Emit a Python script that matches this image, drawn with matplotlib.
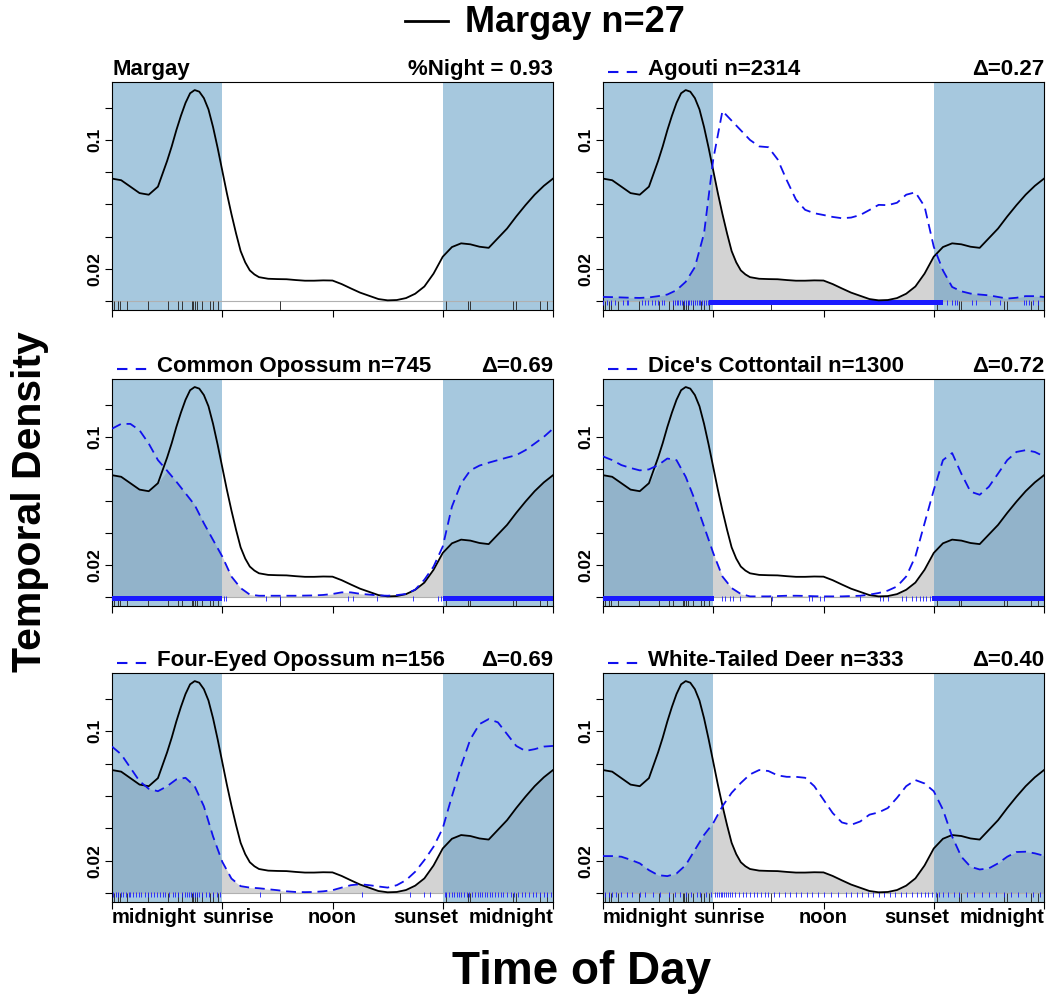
import numpy as np
import matplotlib.pyplot as plt

plt.rcParams['font.family'] = ['Liberation Sans', 'DejaVu Sans']
plt.rcParams['font.weight'] = 'bold'

# Margay density (hours, density), finer around the peak
margay_hours = [0, 0.5, 1, 1.5, 2, 2.5, 3, 3.25, 3.5, 3.75, 4, 4.25, 4.5, 4.75, 5, 5.25,
                5.5, 5.75, 6, 6.25, 6.5, 6.75, 7, 7.25, 7.5, 7.75, 8, 8.5, 9, 9.5, 10,
                10.5, 11, 11.5, 12, 12.5, 13, 13.5, 14, 14.5, 15, 15.5, 16, 16.5, 17,
                17.5, 18, 18.5, 19, 19.5, 20, 20.5, 21, 21.5, 22, 22.5, 23, 23.5, 24]
margay = [0.076, 0.075, 0.071, 0.067, 0.066, 0.071, 0.087, 0.096, 0.106, 0.115, 0.123,
          0.129, 0.131, 0.130, 0.126, 0.119, 0.108, 0.095, 0.081, 0.067, 0.054, 0.042,
          0.031, 0.024, 0.019, 0.0165, 0.0148, 0.0138, 0.0136, 0.0135, 0.0130, 0.0126,
          0.0126, 0.0128, 0.0127, 0.0105, 0.0078, 0.0052, 0.0032, 0.0012, 0.0004, 0.0006,
          0.0018, 0.0045, 0.0090, 0.0170, 0.0275, 0.0335, 0.0358, 0.0352, 0.0337, 0.0330,
          0.0390, 0.0450, 0.0525, 0.0595, 0.0660, 0.0715, 0.076]

# comparison species, every half hour
hours = np.arange(0, 24.5, 0.5)

agouti = [0.0025, 0.0024, 0.0022, 0.0020, 0.0019, 0.0022, 0.0030, 0.0040, 0.0067, 0.0119,
          0.021, 0.042, 0.088, 0.118, 0.112, 0.106, 0.100, 0.096, 0.0955, 0.088,
          0.075, 0.063, 0.0566, 0.0545, 0.0534, 0.0522, 0.0514, 0.0518, 0.0534, 0.0565,
          0.0597, 0.0595, 0.0610, 0.0660, 0.0675, 0.0587, 0.0337, 0.019, 0.0087, 0.0060,
          0.0046, 0.0040, 0.0035, 0.0025, 0.0015, 0.0020, 0.0030, 0.0030, 0.0025]

common_opossum = [0.105, 0.108, 0.108, 0.104, 0.0957, 0.0854, 0.0788, 0.072, 0.0647, 0.0574,
                  0.046, 0.0356, 0.0253, 0.0128, 0.0056, 0.0015, 0.0008, 0.0008, 0.0008, 0.0008,
                  0.0008, 0.0009, 0.0010, 0.0013, 0.0019, 0.0029, 0.0029, 0.0020, 0.0015, 0.0010,
                  0.0008, 0.0012, 0.0019, 0.0046, 0.0108, 0.019, 0.0315, 0.0564, 0.0709, 0.079,
                  0.082, 0.0838, 0.0854, 0.087, 0.0885, 0.0916, 0.0957, 0.0999, 0.105]

cottontail = [0.0877, 0.0854, 0.0823, 0.0805, 0.079, 0.0796, 0.0823, 0.0864, 0.0854, 0.075,
              0.0605, 0.044, 0.0274, 0.0128, 0.0056, 0.0019, 0.0004, 0.0004, 0.0004, 0.0006,
              0.0008, 0.0008, 0.0007, 0.0005, 0.0004, 0.0004, 0.0004, 0.0006, 0.0008, 0.0015,
              0.0025, 0.0040, 0.0066, 0.0128, 0.0253, 0.046, 0.0667, 0.0854, 0.0898, 0.077,
              0.0657, 0.0638, 0.0688, 0.077, 0.0854, 0.0905, 0.0916, 0.0905, 0.0877]

four_eyed = [0.0905, 0.0857, 0.0774, 0.0691, 0.0644, 0.0629, 0.066, 0.0702, 0.0712, 0.066,
             0.0536, 0.0349, 0.0193, 0.0089, 0.0042, 0.0033, 0.0029, 0.0023, 0.0017, 0.0010,
             0.0006, 0.0005, 0.0006, 0.0010, 0.0017, 0.0033, 0.0048, 0.0054, 0.0048, 0.0040,
             0.0033, 0.0048, 0.0079, 0.0131, 0.0203, 0.0286, 0.040, 0.0598, 0.0785, 0.095,
             0.1044, 0.1075, 0.1055, 0.0982, 0.0909, 0.0878, 0.0889, 0.0905, 0.0909]

deer = [0.0228, 0.0228, 0.0224, 0.0205, 0.0183, 0.0141, 0.011, 0.0104, 0.012, 0.0172,
        0.0266, 0.0359, 0.0432, 0.0536, 0.0619, 0.068, 0.0733, 0.076, 0.0754, 0.0727,
        0.0718, 0.0718, 0.0712, 0.066, 0.0577, 0.0494, 0.0436, 0.0421, 0.0442, 0.0484,
        0.0498, 0.0525, 0.0588, 0.066, 0.0698, 0.0677, 0.0629, 0.0515, 0.0349, 0.0224,
        0.0162, 0.0145, 0.0152, 0.0183, 0.0224, 0.0253, 0.0255, 0.0245, 0.0230]

# rug (detection times, hours) -- dense stretches given as bands
margay_rug = [0.11, 0.34, 0.44, 0.8, 1.94, 3.03, 3.61, 3.79, 4.33, 4.42, 4.51, 4.6, 4.88,
              5.33, 5.51, 5.78, 9.13, 18.2, 19.4, 19.5, 21.8, 22.0, 23.3, 23.7]

agouti_rug = [0.02, 0.24, 0.42, 0.65, 1.1, 1.29, 1.38, 2.1, 2.28, 2.46, 2.64, 2.83, 3.0, 3.19,
              3.32, 3.82, 3.9, 4.0, 4.1, 4.2, 4.3, 4.4, 4.5, 4.6, 4.7, 4.8, 4.9, 5.0, 5.1,
              5.2, 5.3, 5.4, 5.5, 5.6, 5.7, 18.7, 18.97, 19.15, 19.24, 20.1, 20.3, 21.05,
              21.6, 22.9, 23.0, 23.2, 23.4, 23.7]
agouti_bands = [(5.75, 18.5)]

opossum_rug = [6.1, 6.2, 8.4, 9.13, 12.85, 13.1, 14.4, 16.4, 17.75, 17.9]
opossum_bands = [(0.0, 6.0), (18.0, 24.0)]

cottontail_rug = [6.47, 6.63, 6.9, 7.1, 7.46, 9.2, 11.2, 11.36, 11.8, 12.0, 14.0, 15.07, 15.25,
                  15.5, 16.25, 16.5, 16.8, 17.06, 17.25, 17.43, 17.6, 17.8]
cottontail_bands = [(0.0, 6.05), (17.9, 24.0)]

four_eyed_rug = [0.05, 0.2, 0.35, 0.5, 0.6, 0.75, 0.9, 1.0, 1.15, 1.3, 1.45, 1.6, 1.8, 1.95,
                 2.1, 2.3, 2.45, 2.6, 2.75, 2.9, 3.1, 3.3, 3.45, 3.6, 3.8, 3.95, 4.1, 4.2,
                 4.3, 4.4, 4.5, 4.6, 4.75, 4.9, 5.1, 5.3, 5.5, 5.7, 5.9, 8.04, 13.6, 16.2,
                 17.0, 17.3, 18.1, 18.2, 18.35, 18.5, 18.6, 18.75, 18.9, 19.0, 19.15, 19.3,
                 19.45, 19.6, 19.75, 19.9, 20.0, 20.15, 20.3, 20.4, 20.55, 20.7, 20.85, 21.0,
                 21.15, 21.3, 21.5, 21.7, 21.9, 22.1, 22.3, 22.5, 22.7, 22.9, 23.1, 23.3,
                 23.5, 23.7, 23.9]

deer_rug = [0.1, 0.3, 0.5, 0.7, 1.0, 1.3, 1.6, 2.0, 2.3, 2.7, 3.1, 3.6, 3.9, 4.2, 4.5, 4.8,
            5.1, 5.3, 5.6, 5.9, 6.1, 6.2, 6.3, 6.4, 6.5, 6.6, 6.7, 6.8, 6.9, 7.0, 7.2, 7.4,
            7.6, 7.8, 8.0, 8.2, 8.4, 8.6, 8.8, 9.0, 9.3, 9.6, 9.9, 10.2, 10.5, 10.8, 11.1,
            11.4, 11.7, 12.0, 12.4, 12.8, 13.2, 13.5, 13.8, 14.1, 14.4, 14.7, 15.0, 15.3,
            15.6, 15.9, 16.2, 16.5, 16.8, 17.1, 17.3, 17.5, 17.7, 17.9, 18.1, 18.3, 18.5,
            18.8, 19.1, 19.4, 19.8, 20.2, 20.6, 21.0, 21.4, 21.8, 22.2, 22.6, 23.0, 23.4,
            23.8]

titles = ['Agouti n=2314', 'Common Opossum n=745', "Dice's Cottontail n=1300",
          'Four-Eyed Opossum n=156', 'White-Tailed Deer n=333']
deltas = [0.27, 0.69, 0.72, 0.69, 0.40]
others = [agouti, common_opossum, cottontail, four_eyed, deer]
other_rugs = [agouti_rug, opossum_rug, cottontail_rug, four_eyed_rug, deer_rug]
other_bands = [agouti_bands, opossum_bands, cottontail_bands, [], []]

sunrise, sunset = 6.0, 18.0
night_col = '#5C9AC3'
YMIN, YMAX = -0.0056, 0.136
TFS = 16  # panel title size
DASH = (0, (5.5, 3.2))

W, H = 1055, 996
fig = plt.figure(figsize=(W / 100, H / 100), dpi=100)

cols = [112, 603]
rows = [(82, 310), (379, 606), (673, 902)]
axes = []
for r, (top, bot) in enumerate(rows):
    for c, left in enumerate(cols):
        ax = fig.add_axes([left / W, 1 - bot / H, 441 / W, (bot - top) / H])
        axes.append(ax)


def base_panel(ax, bottom_labels):
    ax.set_xlim(0, 24)
    ax.set_ylim(YMIN, YMAX)
    ax.axvspan(0, sunrise, color=night_col, alpha=0.545, lw=0, zorder=2)
    ax.axvspan(sunset, 24, color=night_col, alpha=0.545, lw=0, zorder=2)
    ax.axhline(0, color='#b0b0b0', lw=0.8, zorder=2.5)
    ax.plot(margay_hours, margay, color='black', lw=1.3, zorder=4)
    ax.vlines(margay_rug, YMIN, 0, color='#333333', lw=0.7, zorder=3)
    ax.set_xticks([0, 6, 12, 18, 24])
    ax.set_xticklabels([])
    ax.set_yticks([0, 0.02, 0.04, 0.06, 0.08, 0.1, 0.12])
    ax.set_yticklabels(['', '0.02', '', '', '', '0.1', ''], rotation=90, va='center',
                       fontsize=12.5, fontweight='bold')
    ax.tick_params(length=5, width=0.8, pad=2)
    for s in ax.spines.values():
        s.set_linewidth(0.8)
    if bottom_labels:
        tr = ax.get_xaxis_transform()
        ax.text(0, -0.066, 'midnight', transform=tr, ha='left', va='center', fontsize=14.5)
        ax.text(6.85, -0.066, 'sunrise', transform=tr, ha='center', va='center', fontsize=14.5)
        ax.text(12, -0.066, 'noon', transform=tr, ha='center', va='center', fontsize=14.5)
        ax.text(17.1, -0.066, 'sunset', transform=tr, ha='center', va='center', fontsize=14.5)
        ax.text(24, -0.066, 'midnight', transform=tr, ha='right', va='center', fontsize=14.5)


# first panel: Margay alone
ax = axes[0]
base_panel(ax, False)
ax.text(0, 1.008, 'Margay', transform=ax.transAxes, ha='left', va='bottom', fontsize=TFS)
ax.text(1, 1.008, '%Night = 0.93', transform=ax.transAxes, ha='right', va='bottom',
        fontsize=TFS)

margay_on_grid = np.interp(hours, margay_hours, margay)
for i, ax in enumerate(axes[1:]):
    other = np.array(others[i])
    base_panel(ax, i >= 3)
    ax.fill_between(hours, 0, np.minimum(margay_on_grid, other), color='#d3d3d3', lw=0,
                    zorder=1)
    ax.plot(hours, other, color='#1010ee', lw=1.3, ls=DASH, zorder=4)
    ax.vlines(other_rugs[i], -0.0027, 0.0004, color='#1a1aff', lw=0.6, zorder=3.5)
    for a, b in other_bands[i]:
        ax.fill_between([a, b], -0.0027, 0.0004, color='#1a1aff', lw=0, zorder=3.5)
    # legend sample next to the panel title
    ax.plot([0.011, 0.082], [1.045, 1.045], transform=ax.transAxes, color='#1010ee',
            lw=1.5, ls=(0, (5, 4)), clip_on=False)
    ax.text(0.102, 1.008, titles[i], transform=ax.transAxes, ha='left', va='bottom',
            fontsize=TFS)
    ax.text(1, 1.008, '\u0394=%.2f' % deltas[i], transform=ax.transAxes, ha='right',
            va='bottom', fontsize=TFS)

# overall legend / title
fig.add_artist(plt.Line2D([405 / W, 448 / W], [1 - 21 / H, 1 - 21 / H], color='black', lw=2))
fig.text(465 / W, 1 - 22 / H, 'Margay n=27', ha='left', va='center', fontsize=26,
         fontweight='bold')

fig.text(30 / W, 1 - 502 / H, 'Temporal Density', rotation=90, ha='center', va='center',
         fontsize=29.5, fontweight='bold')
fig.text(582 / W, 1 - 972 / H, 'Time of Day', ha='center', va='center', fontsize=33,
         fontweight='bold')

fig.savefig('out.png', dpi=100)
